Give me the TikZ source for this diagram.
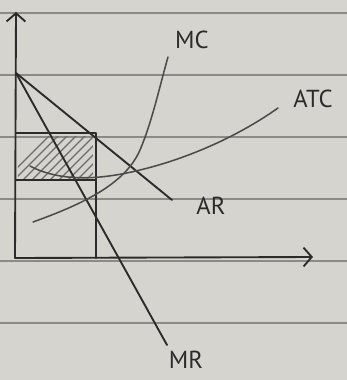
\documentclass[tikz,border=0pt]{standalone}
\usepackage{fontspec}
\setsansfont{PT Sans}
\usepackage{tikz}
\usetikzlibrary{arrows.meta,positioning}
\definecolor{paper}{HTML}{D6D4CF}
\definecolor{ruling}{HTML}{8C8A86}
\definecolor{pencil}{HTML}{2B2B2B}

\begin{document}
\begin{tikzpicture}[
  x=0.03cm,y=-0.03cm,
  font=\sffamily\fontsize{21}{24}\selectfont,
  pen/.style={draw=pencil,line width=1.6pt,line cap=round,line join=round},
  curve/.style={draw=pencil!85,line width=1.3pt,line cap=round},
  axis/.style={pen,-{Straight Barb[length=7pt,width=16pt,line width=1.6pt]}},
  hatch/.style={draw=pencil!70,line width=1pt},
  tag/.style={text=pencil,inner sep=1pt}
]
  % paper
  \fill[paper] (0,0) rectangle (347,380);
  \useasboundingbox (0,0) rectangle (347,380);
  \foreach \yy in {13,75,137,199,261,323}
    \draw[ruling,line width=1.2pt] (0,\yy) -- (347,\yy);

  \coordinate (origin) at (15,258);
  \coordinate (ytop) at (16,12);
  \coordinate (xend) at (313,257);
  \coordinate (pmax) at (16,73);
  \coordinate (arend) at (172,200);
  \coordinate (mrend) at (167,345);
  \coordinate (ptop) at (16,133);
  \coordinate (qcorner) at (96,133);
  \coordinate (qbase) at (96,258);
  \coordinate (cleft) at (16,180);
  \coordinate (cright) at (95,180);

  % profit area
  \begin{scope}
    \clip (18,136) rectangle (93,178);
    \foreach \k in {0,9,...,120}
      \draw[hatch] (\k,185) -- (\k+55,130);
  \end{scope}

  \draw[axis] (origin) -- (ytop);
  \draw[axis] (origin) -- (xend);

  \draw[pen] (pmax) -- (arend);
  \draw[pen] (pmax) -- (mrend);
  \draw[pen] (ptop) -- (qcorner) -- (qbase);
  \draw[pen] (cleft) -- (cright);

  \draw[curve] (30,166) .. controls (60,182) and (100,180) .. (140,170)
    .. controls (190,158) and (240,135) .. (278,108);
  \draw[curve] (33,222) .. controls (80,205) and (125,185) .. (140,150)
    .. controls (152,122) and (160,85) .. (168,57);

  \node[tag] (mc) at (192,40) {MC};
  \node[tag] (atc) at (313,99) {ATC};
  \node[tag] (ar) at (211,206) {AR};
  \node[tag] (mr) at (186,360) {MR};
\end{tikzpicture}
\end{document}
